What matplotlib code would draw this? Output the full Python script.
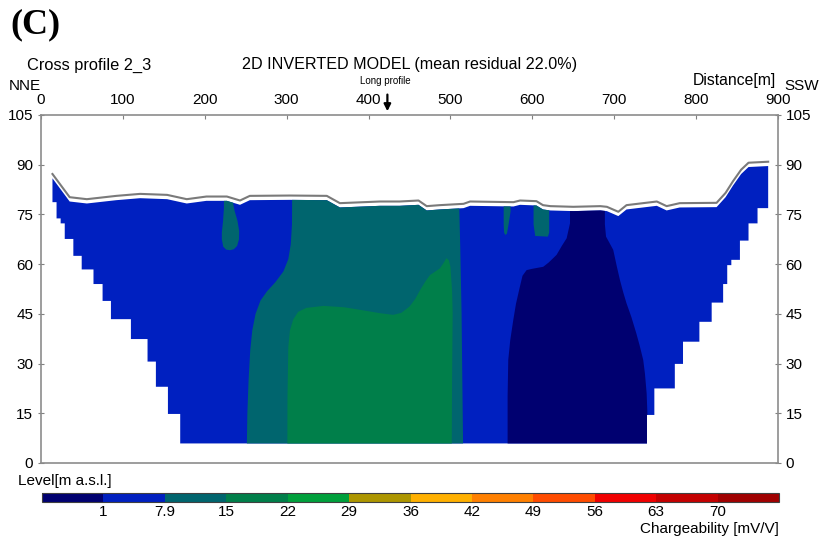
import numpy as np
import matplotlib.pyplot as plt
from matplotlib.colors import ListedColormap, BoundaryNorm
from matplotlib.cm import ScalarMappable
from matplotlib.patches import Polygon

plt.rcParams['font.family'] = ['Liberation Sans', 'DejaVu Sans']

# Topography along cross profile 2_3 (distance [m], level [m a.s.l.])
topo_x = [14, 35, 56, 92, 121, 154, 178, 202, 227, 243, 255, 304, 349, 365, 414, 438,
          461, 471, 487, 516, 524, 577, 585, 605, 613, 622, 650, 683, 691, 705, 715,
          752, 764, 780, 825, 836, 845, 855, 864, 888]
topo_z = [87.2, 80.2, 79.6, 80.6, 81.2, 80.9, 79.6, 80.4, 80.4, 79.2, 80.6, 80.7, 80.6,
          78.4, 78.9, 78.9, 79.2, 77.5, 77.8, 78.2, 78.9, 78.7, 79.2, 79.0, 77.8, 77.5,
          77.3, 77.5, 77.3, 75.8, 77.8, 78.9, 77.5, 78.4, 78.5, 81.5, 85.0, 88.5, 90.6, 90.9]

# Stepped edges of the inverted section (column position, base level of step)
left_step_x = [14, 19, 24, 29, 39.5, 49.7, 64.1, 75.2, 85.4, 109.8, 130.1, 140.3, 155, 170]
left_step_z = [78.7, 73.8, 72.3, 67.6, 62.5, 58.4, 54, 48.9, 43.4, 37.4, 30.6, 23, 14.8, 5.9]
right_step_x = [888, 875, 864, 853.5, 843, 838, 833, 819, 804, 784, 774, 749, 740]
right_step_z = [76.9, 72.3, 67.1, 61.3, 59.7, 54, 48.4, 42.6, 36.6, 29.9, 22.5, 14.5, 5.9]

# Chargeability zones (outline vertices) and their values [mV/V]
background_value = 4.0
teal_x = [307, 306.5, 305, 302, 296, 286, 276, 268, 262, 258, 255.5, 253.5, 252, 251,
          515.7, 514.5, 513.6, 512, 510.8, 510.8]
teal_z = [95, 72, 66, 61.5, 57.8, 54.5, 51.8, 49, 45, 40, 34, 25, 15, 0,
          0, 25, 45.2, 65, 76.8, 95]
teal_value = 11.0

green_x = [300.8, 301, 302, 304, 308, 314, 324, 345, 370, 390, 414, 430, 440, 450, 457,
           463, 470, 475, 487, 492, 495, 498, 500, 502, 502.7, 502, 501.5]
green_z = [0, 20, 35, 40, 43.3, 45.6, 46.8, 47.4, 47.0, 46.2, 45.2, 44.7, 45.3, 47.2, 49.5,
           52.2, 55, 56.7, 58.7, 60.5, 61.8, 61.2, 59.2, 52, 45.2, 25, 0]
green_value = 18.0

drip_x = [223.4, 223.4, 222.3, 220.8, 220.8, 222.5, 226, 230.8, 235.5, 239.5, 241.8, 242,
          240, 236.5, 234.8, 234.8]
drip_z = [95, 77, 73, 69.5, 67.5, 65.3, 64.4, 64.2, 64.5, 65.5, 67.5, 70, 73, 76, 78, 95]

strip1_x = [565, 565, 565.5, 567, 569, 571, 573.5, 573.5]
strip1_z = [95, 72, 69.5, 68.8, 69.2, 72, 76, 95]
strip2_x = [601.5, 601.5, 603.5, 619, 620.6, 620.6]
strip2_z = [95, 72, 68.5, 68.3, 69.5, 95]

navy_x = [646, 646, 641.9, 636, 629.6, 620, 613.3, 600, 593, 588, 584.8, 580, 576.7, 573,
          570.6, 569.8, 569.8, 742, 740.5, 739.6, 737.5, 735.4, 731, 727, 721, 715, 711,
          707, 703, 698.8, 694, 690, 688.6, 688.6]
navy_z = [95, 72.3, 67.8, 65.5, 62.8, 60.5, 59.2, 58.6, 58.2, 56.5, 53.2, 48, 43.1, 37,
          31.1, 20, 0, 0, 15, 21, 27, 31.1, 35.5, 39.1, 44, 48.2, 51.5, 55.2, 59.5, 64.3,
          66.5, 68.3, 72, 95]
navy_value = 0.5

# Colour scale
cb_bounds = [-6, 1, 7.9, 15, 22, 29, 36, 42, 49, 56, 63, 70, 77]
cb_labels = ['1', '7.9', '15', '22', '29', '36', '42', '49', '56', '63', '70']
cb_colors = ['#000070', '#0020C0', '#00656E', '#007F4A', '#00A03C', '#AD9600',
             '#FFB000', '#FF8000', '#FF4C00', '#F00000', '#C40000', '#A00000']

cmap = ListedColormap(cb_colors)
norm = BoundaryNorm(cb_bounds, cmap.N)
model_gap = 1.3  # model top sits just under the topography line

fig = plt.figure(figsize=(8.23, 5.42), dpi=100)
ax = fig.add_axes([41 / 823, 79 / 542, 737 / 823, 348 / 542])

# outline of the inverted section: top, right staircase, bottom, left staircase
top = [(x, z - model_gap) for x, z in zip(topo_x, topo_z)]
outline = list(top)
prev = top[-1][1]
for x, z in zip(right_step_x, right_step_z):
    outline += [(x, prev), (x, z)]
    prev = z
for i in range(len(left_step_x) - 1, -1, -1):
    upper = left_step_z[i - 1] if i > 0 else top[0][1]
    outline += [(left_step_x[i], left_step_z[i]), (left_step_x[i], upper)]

model = Polygon(outline, closed=True, fc=cmap(norm(background_value)), ec='none', zorder=1)
ax.add_patch(model)

zones = [(teal_x, teal_z, teal_value), (green_x, green_z, green_value),
         (drip_x, drip_z, teal_value), (strip1_x, strip1_z, teal_value),
         (strip2_x, strip2_z, teal_value), (navy_x, navy_z, navy_value)]
for zx, zz, val in zones:
    p = ax.fill(zx, zz, color=cmap(norm(val)), lw=0, zorder=2)[0]
    p.set_clip_path(model)

ax.plot(topo_x, topo_z, color='#7a7a7a', lw=1.5, zorder=3)

ax.set_xlim(0, 900)
ax.set_ylim(0, 105)
ax.xaxis.tick_top()
ax.set_xticks(range(0, 901, 100))
ax.set_yticks(range(0, 106, 15))
ax.tick_params(axis='x', direction='in', length=3, color='#808080', labelsize=11, pad=6)
ax.tick_params(axis='y', left=True, right=True, labelleft=True, labelright=True,
               direction='inout', length=5, color='#808080', labelsize=11, pad=3)
for s in ax.spines.values():
    s.set_color('#8c8c8c')
    s.set_linewidth(1.2)

# long profile crossing marker
ax.annotate('', xy=(423, 105.3), xytext=(423, 112),
            arrowprops=dict(arrowstyle='-|>', color='black', lw=1.6, mutation_scale=10),
            annotation_clip=False)
ax.text(420, 115.3, 'Long profile', fontsize=7, ha='center', va='center', clip_on=False)

# texts around the frame
fig.text(10 / 823, 1 - 25 / 542, '(C)', fontsize=26, fontweight='bold',
         family=['Liberation Serif', 'DejaVu Serif'], va='center', ha='left')
fig.text(27 / 823, 1 - 65 / 542, 'Cross profile 2_3', fontsize=11.8, va='center')
fig.text(410 / 823, 1 - 65 / 542, '2D INVERTED MODEL (mean residual 22.0%)',
         fontsize=11.6, va='center', ha='center')
fig.text(9 / 823, 1 - 86 / 542, 'NNE', fontsize=11, va='center')
fig.text(776 / 823, 1 - 80 / 542, 'Distance[m]', fontsize=11.3, va='center', ha='right')
fig.text(784 / 823, 1 - 86 / 542, 'SSW', fontsize=11, va='center')
fig.text(18 / 823, 1 - 481 / 542, 'Level[m a.s.l.]', fontsize=11, va='center')
fig.text(779 / 823, 1 - 529 / 542, 'Chargeability [mV/V]', fontsize=11, va='center', ha='right')

# colour bar
cax = fig.add_axes([42 / 823, 40 / 542, 737 / 823, 9 / 542])
cb = fig.colorbar(ScalarMappable(norm=norm, cmap=cmap), cax=cax, orientation='horizontal',
                  ticks=cb_bounds[1:-1])
cb.set_ticklabels(cb_labels)
cb.outline.set_edgecolor('#404040')
cb.outline.set_linewidth(0.8)
cax.minorticks_off()
cax.tick_params(which='both', length=0, labelsize=11, pad=2)

fig.savefig('out.png', dpi=100)
